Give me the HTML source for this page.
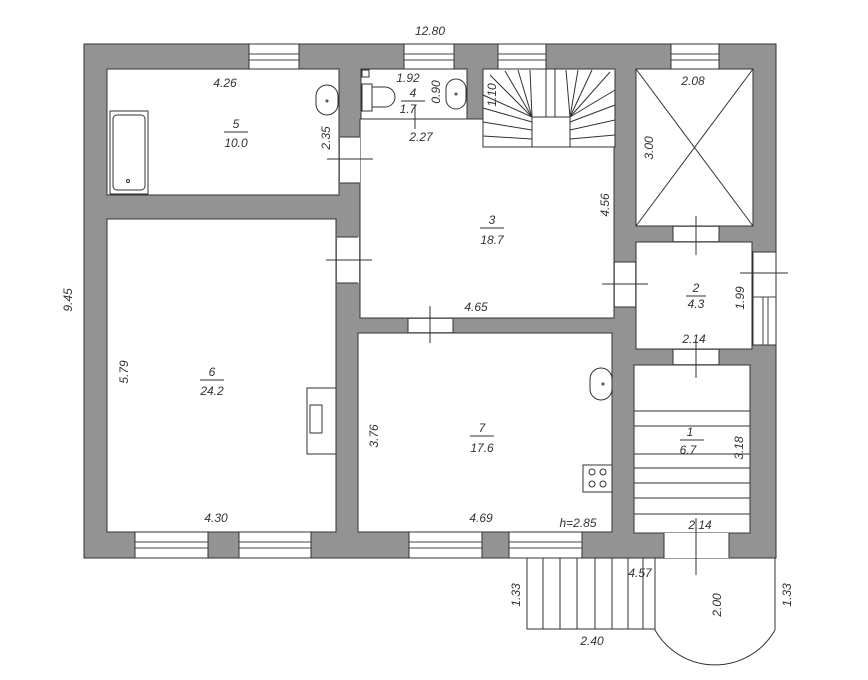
<!DOCTYPE html>
<html><head><meta charset="utf-8"><style>html,body{margin:0;padding:0;background:#fff}svg{display:block}text{font-family:"Liberation Sans",sans-serif;font-style:italic;font-size:12px;fill:#333}</style></head><body>
<svg width="868" height="680" viewBox="0 0 868 680" xmlns="http://www.w3.org/2000/svg">
<rect x="84" y="44" width="692" height="514" fill="#939393" stroke="#333" stroke-width="1"/>
<g fill="#fff" stroke="#333" stroke-width="1">
<rect x="107" y="69" width="232" height="126"/>
<rect x="107" y="219" width="229" height="313"/>
<rect x="361" y="69" width="106" height="50"/>
<rect x="360" y="119" width="254" height="199"/>
<rect x="483" y="69" width="132" height="78"/>
<rect x="358" y="333" width="254" height="199"/>
<rect x="636" y="69" width="117" height="157"/>
<rect x="636" y="242" width="116" height="107"/>
<rect x="634" y="365" width="116" height="168"/>
</g>
<g fill="#fff" stroke="#333" stroke-width="1">
<rect x="249" y="44" width="50" height="25"/><rect x="404" y="44" width="50" height="25"/>
<rect x="498" y="44" width="48" height="25"/><rect x="671" y="44" width="48" height="25"/>
<rect x="135" y="532" width="73" height="26"/><rect x="239" y="532" width="72" height="26"/>
<rect x="409" y="532" width="73" height="26"/><rect x="509" y="532" width="73" height="26"/>
<rect x="753" y="252" width="23" height="93"/>
</g>
<g stroke="#444" stroke-width="1">
<line x1="249" y1="54" x2="299" y2="54"/><line x1="249" y1="60" x2="299" y2="60"/>
<line x1="404" y1="54" x2="454" y2="54"/><line x1="404" y1="60" x2="454" y2="60"/>
<line x1="498" y1="54" x2="546" y2="54"/><line x1="498" y1="60" x2="546" y2="60"/>
<line x1="671" y1="54" x2="719" y2="54"/><line x1="671" y1="60" x2="719" y2="60"/>
<line x1="135" y1="542" x2="208" y2="542"/><line x1="135" y1="548" x2="208" y2="548"/>
<line x1="239" y1="542" x2="311" y2="542"/><line x1="239" y1="548" x2="311" y2="548"/>
<line x1="409" y1="542" x2="482" y2="542"/><line x1="409" y1="548" x2="482" y2="548"/>
<line x1="509" y1="542" x2="582" y2="542"/><line x1="509" y1="548" x2="582" y2="548"/>
<line x1="763" y1="297" x2="763" y2="345"/><line x1="768" y1="297" x2="768" y2="345"/><line x1="753" y1="297" x2="776" y2="297"/>
</g>
<g fill="#fff" stroke="none">
<rect x="340" y="137" width="20" height="46"/><rect x="337" y="237" width="22" height="46"/>
<rect x="408" y="319" width="45" height="13"/><rect x="615" y="262" width="20" height="45"/>
<rect x="673" y="227" width="46" height="14"/><rect x="673" y="350" width="46" height="14"/>
<rect x="664" y="533" width="65" height="25"/>
</g>
<g stroke="#333" stroke-width="1" fill="none">
<line x1="340" y1="137" x2="360" y2="137"/><line x1="340" y1="183" x2="360" y2="183"/>
<line x1="337" y1="237" x2="358" y2="237"/><line x1="337" y1="283" x2="358" y2="283"/>
<line x1="408" y1="318" x2="408" y2="333"/><line x1="453" y1="318" x2="453" y2="333"/>
<line x1="614" y1="262" x2="636" y2="262"/><line x1="614" y1="307" x2="636" y2="307"/>
<line x1="673" y1="226" x2="673" y2="242"/><line x1="719" y1="226" x2="719" y2="242"/>
<line x1="673" y1="349" x2="673" y2="365"/><line x1="719" y1="349" x2="719" y2="365"/>
<line x1="664" y1="533" x2="664" y2="558"/><line x1="729" y1="533" x2="729" y2="558"/>
<line x1="327" y1="159" x2="373" y2="159"/><line x1="326" y1="260" x2="372" y2="260"/>
<line x1="430" y1="306" x2="430" y2="343"/><line x1="602" y1="284" x2="648" y2="284"/>
<line x1="696" y1="216" x2="696" y2="255"/><line x1="696" y1="341" x2="696" y2="378"/>
<line x1="740" y1="273" x2="788" y2="273"/><line x1="696" y1="518" x2="696" y2="575"/>
<line x1="636" y1="69" x2="753" y2="226"/><line x1="753" y1="69" x2="636" y2="226"/>
<polyline points="483,69 483,147 532,147 532,117 570,117 570,147 615,147"/>
<line x1="532" y1="117" x2="490" y2="75"/><line x1="532" y1="117" x2="505" y2="71"/><line x1="532" y1="117" x2="518" y2="70"/><line x1="532" y1="117" x2="530" y2="70"/>
<line x1="532" y1="117" x2="483" y2="95"/><line x1="532" y1="122" x2="483" y2="108"/><line x1="532" y1="130" x2="483" y2="122"/><line x1="532" y1="139" x2="483" y2="136"/>
<line x1="570" y1="117" x2="566" y2="70"/><line x1="570" y1="117" x2="578" y2="70"/><line x1="570" y1="117" x2="592" y2="70"/><line x1="570" y1="117" x2="610" y2="72"/>
<line x1="570" y1="117" x2="615" y2="90"/><line x1="570" y1="122" x2="615" y2="105"/><line x1="570" y1="130" x2="615" y2="120"/><line x1="570" y1="139" x2="615" y2="135"/>
<line x1="546" y1="69" x2="546" y2="117"/><line x1="555" y1="69" x2="555" y2="117"/>
<line x1="634" y1="411" x2="750" y2="411"/><line x1="634" y1="426" x2="750" y2="426"/><line x1="634" y1="454" x2="750" y2="454"/><line x1="634" y1="468" x2="750" y2="468"/><line x1="634" y1="483" x2="750" y2="483"/><line x1="634" y1="498" x2="750" y2="498"/><line x1="634" y1="514" x2="750" y2="514"/>
<polyline points="527,558 527,629 655,629"/>
<line x1="543" y1="558" x2="543" y2="629"/><line x1="560" y1="558" x2="560" y2="629"/><line x1="577" y1="558" x2="577" y2="629"/><line x1="595" y1="558" x2="595" y2="629"/><line x1="612" y1="558" x2="612" y2="629"/><line x1="628" y1="558" x2="628" y2="629"/><line x1="643" y1="558" x2="643" y2="629"/>
<path d="M655,558 L655,630 A69,69 0 0 0 775,630 L775,558"/>
<rect x="110" y="111" width="38" height="83"/><rect x="113" y="115" width="32" height="75" rx="4"/><circle cx="128" cy="181" r="1.5"/>
<rect x="316" y="85" width="22" height="30" rx="11"/><circle cx="327" cy="101" r="1"/>
<rect x="446" y="79" width="20" height="30" rx="10"/><circle cx="456" cy="94" r="1"/>
<rect x="590" y="368" width="22" height="32" rx="11"/><circle cx="603" cy="384" r="1"/>
<path d="M372,87 L385,87 A10,10 0 0 1 385,107 L372,107 Z"/><rect x="362" y="84" width="10" height="27"/><rect x="362" y="70" width="7" height="7"/>
<rect x="583" y="465" width="29" height="27"/><circle cx="592" cy="472" r="3"/><circle cx="603" cy="472" r="3"/><circle cx="592" cy="484" r="3"/><circle cx="603" cy="484" r="3"/>
<rect x="307" y="388" width="29" height="66"/><rect x="310" y="405" width="12" height="28"/>
<line x1="224" y1="132" x2="248" y2="132"/><line x1="401" y1="101" x2="425" y2="101"/><line x1="480" y1="228" x2="504" y2="228"/><line x1="200" y1="380" x2="224" y2="380"/><line x1="470" y1="436" x2="494" y2="436"/><line x1="686" y1="296" x2="706" y2="296"/><line x1="680" y1="440" x2="704" y2="440"/>
<line x1="415" y1="105" x2="415" y2="129"/>
</g>
<text x="430" y="35" text-anchor="middle">12.80</text>
<text x="225" y="87" text-anchor="middle">4.26</text>
<text x="236" y="128" text-anchor="middle">5</text><text x="236" y="147" text-anchor="middle">10.0</text>
<text x="408" y="82" text-anchor="middle">1.92</text>
<text x="413" y="97" text-anchor="middle">4</text><text x="408" y="113" text-anchor="middle">1.7</text>
<text x="421" y="141" text-anchor="middle">2.27</text>
<text x="693" y="85" text-anchor="middle">2.08</text>
<text x="492" y="224" text-anchor="middle">3</text><text x="492" y="244" text-anchor="middle">18.7</text>
<text x="476" y="311" text-anchor="middle">4.65</text>
<text x="696" y="292" text-anchor="middle">2</text><text x="696" y="308" text-anchor="middle">4.3</text>
<text x="694" y="343" text-anchor="middle">2.14</text>
<text x="212" y="376" text-anchor="middle">6</text><text x="212" y="395" text-anchor="middle">24.2</text>
<text x="482" y="432" text-anchor="middle">7</text><text x="482" y="452" text-anchor="middle">17.6</text>
<text x="690" y="436" text-anchor="middle">1</text><text x="688" y="454" text-anchor="middle">6.7</text>
<text x="216" y="522" text-anchor="middle">4.30</text>
<text x="481" y="522" text-anchor="middle">4.69</text>
<text x="578" y="527" text-anchor="middle">h=2.85</text>
<text x="700" y="529" text-anchor="middle">2.14</text>
<text x="640" y="577" text-anchor="middle">4.57</text>
<text x="592" y="645" text-anchor="middle">2.40</text>
<g>
<text transform="translate(72,300) rotate(-90)" text-anchor="middle">9.45</text>
<text transform="translate(128,372) rotate(-90)" text-anchor="middle">5.79</text>
<text transform="translate(330,138) rotate(-90)" text-anchor="middle">2.35</text>
<text transform="translate(440,92) rotate(-90)" text-anchor="middle" font-size="11">0.90</text>
<text transform="translate(496,95) rotate(-90)" text-anchor="middle" font-size="10">1.10</text>
<text transform="translate(653,148) rotate(-90)" text-anchor="middle">3.00</text>
<text transform="translate(609,205) rotate(-90)" text-anchor="middle">4.56</text>
<text transform="translate(744,298) rotate(-90)" text-anchor="middle">1.99</text>
<text transform="translate(378,436) rotate(-90)" text-anchor="middle">3.76</text>
<text transform="translate(743,448) rotate(-90)" text-anchor="middle">3.18</text>
<text transform="translate(520,595) rotate(-90)" text-anchor="middle">1.33</text>
<text transform="translate(721,605) rotate(-90)" text-anchor="middle">2.00</text>
<text transform="translate(791,595) rotate(-90)" text-anchor="middle">1.33</text>
</g>
</svg>
</body></html>
